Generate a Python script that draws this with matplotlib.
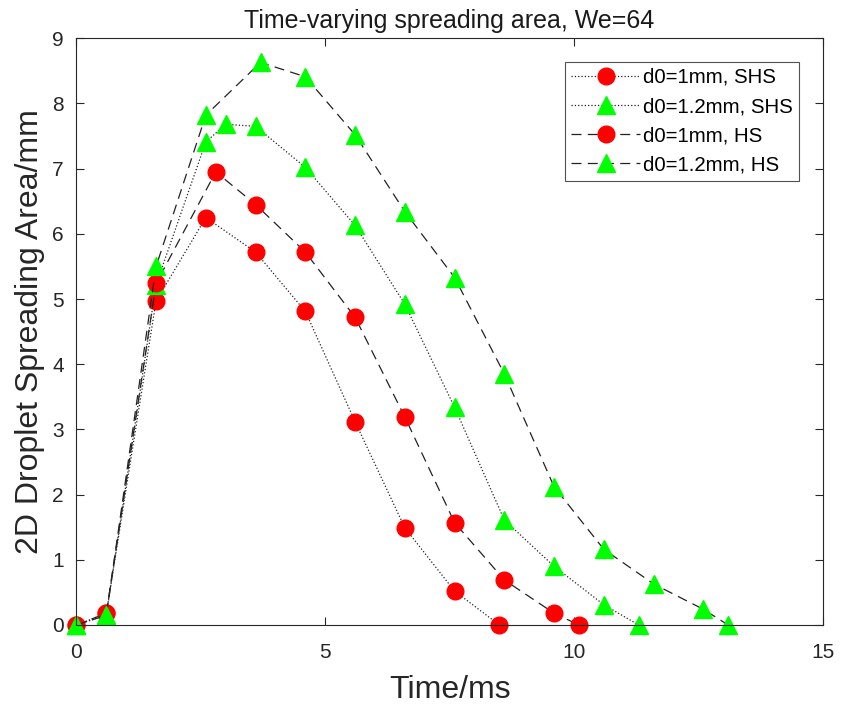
import matplotlib.pyplot as plt

plt.rcParams['font.family'] = ['Liberation Sans', 'DejaVu Sans']

# d0=1mm, SHS
t_shs_1 = [0, 0.6, 1.6, 2.6, 3.6, 4.6, 5.6, 6.6, 7.6, 8.5]
a_shs_1 = [0, 0.18, 4.97, 6.25, 5.72, 4.81, 3.12, 1.49, 0.52, 0]
# d0=1.2mm, SHS
t_shs_12 = [0, 0.6, 1.6, 2.6, 3.0, 3.6, 4.6, 5.6, 6.6, 7.6, 8.6, 9.6, 10.6, 11.3]
a_shs_12 = [0, 0.15, 5.22, 7.41, 7.68, 7.65, 7.02, 6.13, 4.92, 3.34, 1.61, 0.90, 0.31, 0]
# d0=1mm, HS
t_hs_1 = [0, 0.6, 1.6, 2.8, 3.6, 4.6, 5.6, 6.6, 7.6, 8.6, 9.6, 10.1]
a_hs_1 = [0, 0.18, 5.24, 6.95, 6.45, 5.72, 4.72, 3.19, 1.57, 0.69, 0.18, 0]
# d0=1.2mm, HS
t_hs_12 = [0, 0.6, 1.6, 2.6, 3.7, 4.6, 5.6, 6.6, 7.6, 8.6, 9.6, 10.6, 11.6, 12.6, 13.1]
a_hs_12 = [0, 0.15, 5.5, 7.82, 8.63, 8.41, 7.52, 6.34, 5.33, 3.85, 2.12, 1.16, 0.63, 0.24, 0]

fig = plt.figure(figsize=(8.43, 7.09), dpi=100)
ax = fig.add_axes([0.0907, 0.1185, 0.8853, 0.8275])

lc = '#222222'
styles = [
    (t_shs_1, a_shs_1, ':', None, 'o', 'red', 'd0=1mm, SHS'),
    (t_shs_12, a_shs_12, ':', None, '^', '#00ff00', 'd0=1.2mm, SHS'),
    (t_hs_1, a_hs_1, '--', (8, 5), 'o', 'red', 'd0=1mm, HS'),
    (t_hs_12, a_hs_12, '--', (8, 5), '^', '#00ff00', 'd0=1.2mm, HS'),
]
for t, a, ls, dash, mk, col, lab in styles:
    line, = ax.plot(t, a, ls, color=lc, lw=0.9, marker=mk, ms=12 if mk == 'o' else 13.5,
                    mfc=col, mec=col, label=lab, clip_on=False)
    if dash:
        line.set_dashes(dash)

ax.set_xlim(0, 15)
ax.set_ylim(0, 9)
ax.set_xticks([0, 5, 10, 15])
ax.set_yticks(range(10))
ax.tick_params(direction='in', top=True, right=True, labelsize=15,
               colors='#262626', length=6)
ax.tick_params(axis='x', pad=13)
ax.tick_params(axis='y', pad=9)
for s in ax.spines.values():
    s.set_color('#262626')
    s.set_linewidth(0.8)

ax.set_title('Time-varying spreading area, We=64', fontsize=18, color='#1a1a1a', pad=7.5)
ax.set_xlabel('Time/ms', fontsize=23, color='#262626', labelpad=9)
ax.set_ylabel('2D Droplet Spreading Area/mm', fontsize=23, color='#262626', labelpad=5)

leg = ax.legend(loc='upper right', fontsize=14.7, fancybox=False, edgecolor='#262626',
                handlelength=3.4, handletextpad=0.15, borderaxespad=1.15,
                labelspacing=0.5, borderpad=0.3)
leg.get_frame().set_linewidth(0.8)

fig.savefig('out.png', dpi=100)
